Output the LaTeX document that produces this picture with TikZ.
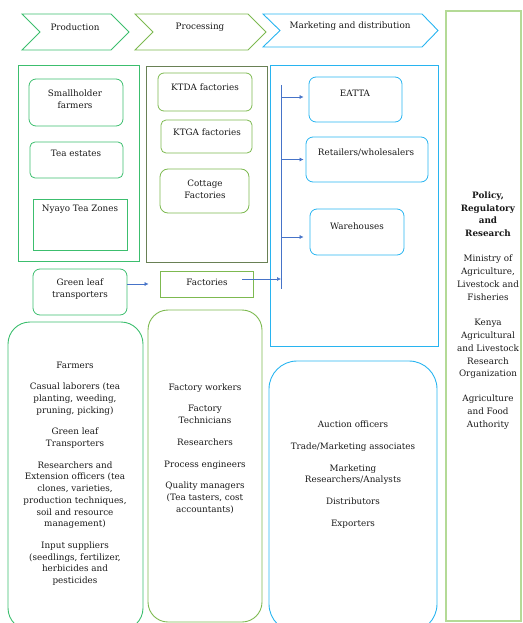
\documentclass[tikz,border=0pt]{standalone}
\usepackage{fontspec}
\setmainfont{DejaVu Serif}
\usetikzlibrary{arrows.meta,fit}
\definecolor{prodg}{RGB}{60,190,110}
\definecolor{procg}{RGB}{125,185,80}
\definecolor{procdark}{RGB}{105,128,85}
\definecolor{mktb}{RGB}{40,180,240}
\definecolor{arrb}{RGB}{70,115,200}
\definecolor{polg}{RGB}{180,218,150}
\begin{document}
\begin{tikzpicture}[x=1pt,y=-1pt,
  txt/.style={font=\fontsize{8.8}{11.7}\selectfont, align=center, inner sep=0pt, text=black!90},
  ptxt/.style={font=\fontsize{8.8}{12.9}\selectfont, align=center, inner sep=0pt, text=black!90},
  fbox/.style={inner sep=0pt, fit={#1}},
  arr/.style={draw=arrb, line width=0.6pt, -{Latex[length=4pt,width=4pt]}},
  chev/.style={line width=0.9pt, line join=miter}
]
\useasboundingbox (0,0) rectangle (522,623);
\begin{scope}
\clip (0,0) rectangle (522,623);

% chevrons
\draw[chev, draw=prodg] (22,14) -- (111,14) -- (129,32) -- (111,50) -- (22,50) -- (40,32) -- cycle;
\draw[chev, draw=procg] (135,14) -- (248,14) -- (266,32) -- (248,50) -- (135,50) -- (153,32) -- cycle;
\draw[chev, draw=mktb] (263,14) -- (422,14) -- (438,30.5) -- (422,47) -- (263,47) -- (280,30.5) -- cycle;
\node[txt] (tprod) at (75,27) {Production};
\node[txt] (tproc) at (200,27) {Processing};
\node[txt] (tmkt) at (350,26) {Marketing and distribution};

% policy column
\node[fbox={(446,11) (521,621)}, draw=polg, line width=1.2pt] (polbox) {};
\node[ptxt] (poltxt) at (488,310.5) {\textbf{Policy,}\\\textbf{Regulatory}\\\textbf{and}\\\textbf{Research}\\[12pt]
Ministry of\\Agriculture,\\Livestock and\\Fisheries\\[12pt]
Kenya\\Agricultural\\and Livestock\\Research\\Organization\\[12pt]
Agriculture\\and Food\\Authority};

% containers
\node[fbox={(18,66) (139,261)}, draw=prodg, line width=1pt] (prodbox) {};
\node[fbox={(146,67) (267,262)}, draw=procdark, line width=1pt] (procbox) {};
\node[fbox={(270,66) (438,346)}, draw=mktb, line width=1pt] (mktbox) {};

% production boxes
\node[fbox={(29,79) (123,126)}, draw=prodg, line width=0.8pt, rounded corners=7pt] (smallbox) {};
\node[txt] (smallt) at (75,99.5) {Smallholder\\farmers};
\node[fbox={(30,142) (123,178)}, draw=prodg, line width=0.8pt, rounded corners=5pt] (teabox) {};
\node[txt] (teat) at (76,153) {Tea estates};
\node[fbox={(33,199) (127,250)}, draw=prodg, line width=0.8pt] (nyabox) {};
\node[txt] (nyat) at (80,209) {Nyayo Tea Zones};
\node[fbox={(33,269) (127,315)}, draw=prodg, line width=0.8pt, rounded corners=7pt] (gltbox) {};
\node[txt] (gltt) at (80,289) {Green leaf\\transporters};

% processing boxes
\node[fbox={(158,73) (252,111)}, draw=procg, line width=0.8pt, rounded corners=6pt] (ktdabox) {};
\node[txt] (ktdat) at (205,87) {KTDA factories};
\node[fbox={(161,120) (252,153)}, draw=procg, line width=0.8pt, rounded corners=5pt] (ktgabox) {};
\node[txt] (ktgat) at (207,132) {KTGA factories};
\node[fbox={(160,169) (249,213)}, draw=procg, line width=0.8pt, rounded corners=8pt] (cotbox) {};
\node[txt] (cott) at (205,189) {Cottage\\Factories};
\node[fbox={(160,271) (253,297)}, draw=procg, line width=0.8pt] (facbox) {};
\node[txt] (fact) at (207,282) {Factories};

% marketing boxes
\node[fbox={(309,77) (402,122)}, draw=mktb, line width=0.8pt, rounded corners=7pt] (eattabox) {};
\node[txt] (eattat) at (355,93) {EATTA};
\node[fbox={(306,137) (428,182)}, draw=mktb, line width=0.8pt, rounded corners=7pt] (retbox) {};
\node[txt] (rett) at (366,153) {Retailers/wholesalers};
\node[fbox={(310,209) (404,255)}, draw=mktb, line width=0.8pt, rounded corners=7pt] (warbox) {};
\node[txt] (wart) at (357,226) {Warehouses};

% connectors
\coordinate (vtop) at (281,85);
\coordinate (vbot) at (281,289);
\draw[draw=arrb, line width=1pt] (vtop) -- (vbot);
\coordinate (fs) at ([xshift=-11pt,yshift=5pt]facbox.east);
\coordinate (ea) at ([xshift=-5pt,yshift=2.5pt]eattabox.west);
\coordinate (ra) at ([xshift=-2pt]retbox.west);
\coordinate (wa) at ([xshift=-6pt,yshift=-5pt]warbox.west);
\draw[arr] (gltbox.east |- facbox.west) -- ([xshift=-11pt]facbox.west);
\draw[arr] (fs) -- (vtop |- fs);
\draw[arr] (vtop |- ea) -- (ea);
\draw[arr] (vtop |- ra) -- (ra);
\draw[arr] (vtop |- wa) -- (wa);

% bottom boxes
\node[fbox={(8,322) (143,630)}, draw=prodg, line width=0.9pt, rounded corners=22pt] (farmbig) {};
\node[txt] (farmt) at (75,473.5) {Farmers\\[10pt]
Casual laborers (tea\\planting, weeding,\\pruning, picking)\\[10pt]
Green leaf\\Transporters\\[10pt]
Researchers and\\Extension officers (tea\\clones, varieties,\\production techniques,\\soil and resource\\management)\\[10pt]
Input suppliers\\(seedlings, fertilizer,\\herbicides and\\pesticides};
\node[fbox={(148,310) (262,622)}, draw=procg, line width=0.9pt, rounded corners=20pt] (factbig) {};
\node[txt] (factt) at (205,448.5) {Factory workers\\[10pt]
Factory\\Technicians\\[10pt]
Researchers\\[10pt]
Process engineers\\[10pt]
Quality managers\\(Tea tasters, cost\\accountants)};
\node[fbox={(269,361) (437,632)}, draw=mktb, line width=0.9pt, rounded corners=28pt] (mktbig) {};
\node[txt] (mktt) at (353,474.5) {Auction officers\\[10pt]
Trade/Marketing associates\\[10pt]
Marketing\\Researchers/Analysts\\[10pt]
Distributors\\[10pt]
Exporters};
\end{scope}
\end{tikzpicture}
\end{document}
